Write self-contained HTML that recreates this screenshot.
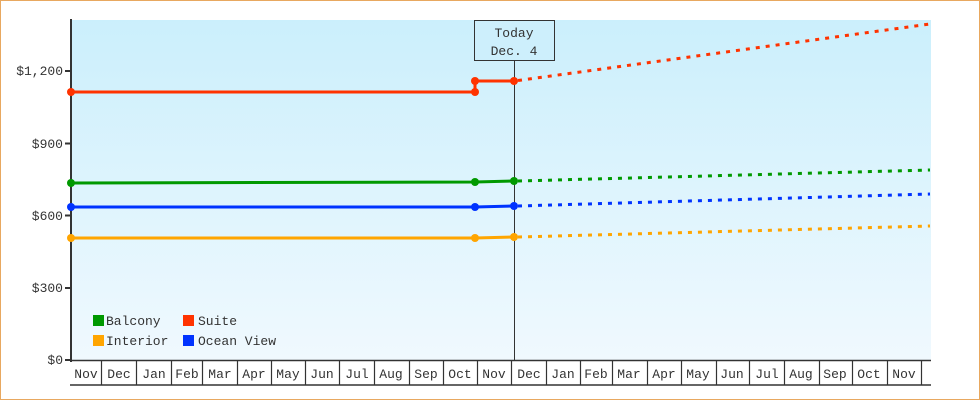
<!DOCTYPE html>
<html><head><meta charset="utf-8"><style>
html,body{margin:0;padding:0;background:#fff}
svg{display:block}
text{font-family:"Liberation Mono","DejaVu Sans Mono",monospace;font-size:13px;fill:#333}
</style></head><body>
<svg width="980" height="400" viewBox="0 0 980 400">
<defs><linearGradient id="bg" x1="0" y1="0" x2="0" y2="1"><stop offset="0" stop-color="#cbeffc"/><stop offset="1" stop-color="#f0f9fe"/></linearGradient></defs>
<rect x="0.5" y="0.5" width="979" height="399" fill="#fff" stroke="#e8a860"/>
<rect x="71" y="20" width="860" height="340" fill="url(#bg)"/>
<line x1="71" y1="19" x2="71" y2="362" stroke="#333" stroke-width="2"/>
<g stroke="#333" stroke-width="2">
<line x1="65" y1="71" x2="71" y2="71"/><line x1="65" y1="143.5" x2="71" y2="143.5"/><line x1="65" y1="215.5" x2="71" y2="215.5"/><line x1="65" y1="288" x2="71" y2="288"/><line x1="65" y1="360" x2="71" y2="360"/>
</g>
<g text-anchor="end">
<text x="63" y="75">$1,200</text><text x="63" y="148">$900</text><text x="63" y="220">$600</text><text x="63" y="292">$300</text><text x="63" y="364">$0</text>
</g>
<line x1="70" y1="360.5" x2="931" y2="360.5" stroke="#333" stroke-width="1.5"/>
<line x1="70" y1="385" x2="931" y2="385" stroke="#333" stroke-width="1.5"/>
<g stroke="#333" stroke-width="1.2">
<line x1="101.5" y1="361" x2="101.5" y2="385"/><line x1="136.5" y1="361" x2="136.5" y2="385"/><line x1="171.5" y1="361" x2="171.5" y2="385"/><line x1="202.5" y1="361" x2="202.5" y2="385"/><line x1="237.5" y1="361" x2="237.5" y2="385"/><line x1="271.5" y1="361" x2="271.5" y2="385"/><line x1="305.5" y1="361" x2="305.5" y2="385"/><line x1="339.5" y1="361" x2="339.5" y2="385"/><line x1="374.5" y1="361" x2="374.5" y2="385"/><line x1="409.5" y1="361" x2="409.5" y2="385"/><line x1="443.5" y1="361" x2="443.5" y2="385"/><line x1="477.5" y1="361" x2="477.5" y2="385"/><line x1="511.5" y1="361" x2="511.5" y2="385"/><line x1="546.5" y1="361" x2="546.5" y2="385"/><line x1="580.5" y1="361" x2="580.5" y2="385"/><line x1="612.5" y1="361" x2="612.5" y2="385"/><line x1="647.5" y1="361" x2="647.5" y2="385"/><line x1="681.5" y1="361" x2="681.5" y2="385"/><line x1="716.5" y1="361" x2="716.5" y2="385"/><line x1="749.5" y1="361" x2="749.5" y2="385"/><line x1="784.5" y1="361" x2="784.5" y2="385"/><line x1="819.5" y1="361" x2="819.5" y2="385"/><line x1="852.5" y1="361" x2="852.5" y2="385"/><line x1="887.5" y1="361" x2="887.5" y2="385"/><line x1="921.5" y1="361" x2="921.5" y2="385"/>
</g>
<g text-anchor="middle">
<text x="86" y="378">Nov</text><text x="119" y="378">Dec</text><text x="154" y="378">Jan</text><text x="187" y="378">Feb</text><text x="220" y="378">Mar</text><text x="254" y="378">Apr</text><text x="288" y="378">May</text><text x="322" y="378">Jun</text><text x="357" y="378">Jul</text><text x="391" y="378">Aug</text><text x="426" y="378">Sep</text><text x="460" y="378">Oct</text><text x="494" y="378">Nov</text><text x="529" y="378">Dec</text><text x="563" y="378">Jan</text><text x="596" y="378">Feb</text><text x="629" y="378">Mar</text><text x="664" y="378">Apr</text><text x="698" y="378">May</text><text x="732" y="378">Jun</text><text x="767" y="378">Jul</text><text x="801" y="378">Aug</text><text x="835" y="378">Sep</text><text x="869" y="378">Oct</text><text x="904" y="378">Nov</text>
</g>
<line x1="514.5" y1="60" x2="514.5" y2="360" stroke="#333" stroke-width="1"/>
<rect x="474.5" y="20.5" width="80" height="40" fill="#cdeffc" stroke="#333" stroke-width="1"/>
<text x="514" y="37" text-anchor="middle">Today</text>
<text x="514" y="55" text-anchor="middle">Dec. 4</text>
<g stroke-width="3" fill="none">
<polyline points="71,92 475,92 475,81 514,81" stroke="#ff3300"/>
<line x1="518" y1="80.5" x2="930" y2="24" stroke="#ff3300" stroke-dasharray="4,6"/>
<polyline points="71,183 475,182 514,181" stroke="#009900"/>
<line x1="518" y1="181" x2="930" y2="170" stroke="#009900" stroke-dasharray="4,6"/>
<polyline points="71,207 475,207 514,206" stroke="#0033ff"/>
<line x1="518" y1="206" x2="930" y2="194" stroke="#0033ff" stroke-dasharray="4,6"/>
<polyline points="71,238 475,238 514,237" stroke="#ffa500"/>
<line x1="518" y1="237" x2="930" y2="226" stroke="#ffa500" stroke-dasharray="4,6"/>
</g>
<g>
<circle cx="71" cy="92" r="4" fill="#ff3300"/><circle cx="475" cy="92" r="4" fill="#ff3300"/><circle cx="475" cy="81" r="4" fill="#ff3300"/><circle cx="514" cy="81" r="4" fill="#ff3300"/>
<circle cx="71" cy="183" r="4" fill="#009900"/><circle cx="475" cy="182" r="4" fill="#009900"/><circle cx="514" cy="181" r="4" fill="#009900"/>
<circle cx="71" cy="207" r="4" fill="#0033ff"/><circle cx="475" cy="207" r="4" fill="#0033ff"/><circle cx="514" cy="206" r="4" fill="#0033ff"/>
<circle cx="71" cy="238" r="4" fill="#ffa500"/><circle cx="475" cy="238" r="4" fill="#ffa500"/><circle cx="514" cy="237" r="4" fill="#ffa500"/>
</g>
<rect x="93" y="315" width="11" height="11" fill="#009900"/><text x="106" y="325">Balcony</text>
<rect x="183" y="315" width="11" height="11" fill="#ff3300"/><text x="198" y="325">Suite</text>
<rect x="93" y="335" width="11" height="11" fill="#ffa500"/><text x="106" y="345">Interior</text>
<rect x="183" y="335" width="11" height="11" fill="#0033ff"/><text x="198" y="345">Ocean View</text>
</svg>
</body></html>
